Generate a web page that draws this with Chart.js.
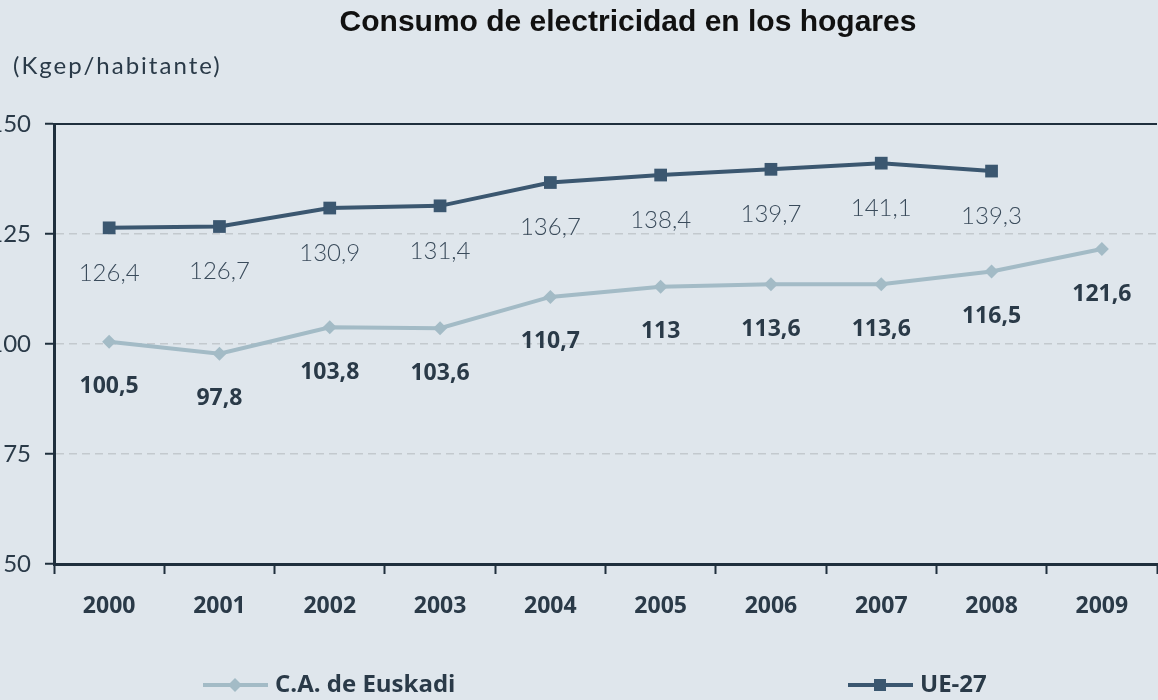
<!DOCTYPE html>
<html lang="es">
<head>
<meta charset="UTF-8" />
<title>Consumo de electricidad en los hogares</title>
<script src="https://cdn.jsdelivr.net/npm/chart.js@4.4.0/dist/chart.umd.min.js"></script>
<style>
  html, body { margin: 0; padding: 0; background: #dfe6ec; overflow: hidden; }
  #wrap { position: absolute; left: -14px; top: 0; width: 1180px; height: 700px; }
</style>
</head>
<body>
<div id="wrap"><canvas id="myChart" width="1180" height="700"></canvas></div>
<script>
const years = ["2000", "2001", "2002", "2003", "2004", "2005", "2006", "2007", "2008", "2009"];
const euskadi = [100.5, 97.8, 103.8, 103.6, 110.7, 113, 113.6, 113.6, 116.5, 121.6];
const ue27 = [126.4, 126.7, 130.9, 131.4, 136.7, 138.4, 139.7, 141.1, 139.3, null];
const yTicks = [50, 75, 100, 125, 150];

const AXIS = "#1f2f3d";
const TEXT = "#2a3a48";
const LIGHT = "#a3bbc6";
const DARK = "#3b5770";
const BOLD_FONT = "'Open Sans', Lato, sans-serif";
const THIN_FONT = "Lato, 'Open Sans', sans-serif";

const fmt = v => String(v).replace(".", ",");

// labels under each point
const valueLabels = {
  id: "valueLabels",
  afterDatasetsDraw(chart) {
    const ctx = chart.ctx;
    ctx.save();
    ctx.textAlign = "center";
    ctx.textBaseline = "middle";
    chart.data.datasets.forEach((ds, i) => {
      const meta = chart.getDatasetMeta(i);
      ctx.font = ds.labelFont;
      ctx.fillStyle = ds.labelColor;
      meta.data.forEach((pt, j) => {
        const v = ds.data[j];
        if (v == null) return;
        ctx.fillText(fmt(v), pt.x, pt.y + 45);
      });
    });
    ctx.restore();
  }
};

// title, unit, top frame line and legend
const decor = {
  id: "decor",
  afterDraw(chart) {
    const { ctx, chartArea: a } = chart;
    ctx.save();
    ctx.strokeStyle = AXIS;
    ctx.lineWidth = 2;
    ctx.beginPath();
    ctx.moveTo(a.left, a.top);
    ctx.lineTo(a.right, a.top);
    ctx.stroke();

    ctx.fillStyle = "#111111";
    ctx.font = "bold 30px 'Liberation Sans', Arial, sans-serif";
    ctx.textAlign = "center";
    ctx.textBaseline = "middle";
    ctx.fillText("Consumo de electricidad en los hogares", 642, 23);

    ctx.fillStyle = TEXT;
    ctx.font = "24px " + THIN_FONT;
    ctx.textAlign = "left";
    ctx.letterSpacing = "2px";
    ctx.fillText("(Kgep/habitante)", 27, 66);
    ctx.letterSpacing = "0px";

    const legendX = [217, 862];
    chart.data.datasets.forEach((ds, i) => {
      const x0 = legendX[i], y = 685;
      ctx.strokeStyle = ds.borderColor;
      ctx.lineWidth = 4;
      ctx.beginPath();
      ctx.moveTo(x0, y);
      ctx.lineTo(x0 + 65, y);
      ctx.stroke();
      ctx.fillStyle = ds.backgroundColor;
      const cx = x0 + 32;
      ctx.beginPath();
      if (ds.pointStyle === "rectRot") {
        ctx.moveTo(cx, y - 7); ctx.lineTo(cx + 7, y); ctx.lineTo(cx, y + 7); ctx.lineTo(cx - 7, y);
      } else {
        ctx.rect(cx - 6, y - 6, 12, 12);
      }
      ctx.fill();
      ctx.fillStyle = TEXT;
      ctx.font = "bold 24px " + BOLD_FONT;
      ctx.fillText(ds.label, x0 + 72, y);
    });
    ctx.restore();
  }
};

const ctx = document.getElementById("myChart").getContext("2d");
const myChart = new Chart(ctx, {
  type: "line",
  data: {
    labels: years,
    datasets: [
      {
        label: "C.A. de Euskadi",
        data: euskadi,
        borderColor: LIGHT,
        backgroundColor: LIGHT,
        borderWidth: 4,
        pointStyle: "rectRot",
        pointRadius: 7,
        pointBorderWidth: 0,
        labelFont: "bold 23px " + BOLD_FONT,
        labelColor: TEXT,
      },
      {
        label: "UE-27",
        data: ue27,
        borderColor: DARK,
        backgroundColor: DARK,
        borderWidth: 4,
        pointStyle: "rect",
        pointRadius: 9,
        pointBorderWidth: 0,
        labelFont: "300 24px " + THIN_FONT,
        labelColor: "#3a4b5b",
      },
    ],
  },
  options: {
    responsive: false,
    animation: false,
    layout: { padding: { top: 124, bottom: 76, left: 0, right: 0 } },
    plugins: {
      legend: { display: false },
      tooltip: { enabled: false },
    },
    scales: {
      x: {
        offset: true,
        grid: { offset: true, drawOnChartArea: false, tickLength: 10, tickColor: AXIS, tickWidth: 2 },
        border: { color: AXIS, width: 3 },
        ticks: { color: TEXT, padding: 19, font: { family: BOLD_FONT, size: 23, weight: "bold" } },
        afterFit(scale) { scale.height = 60; },
      },
      y: {
        min: yTicks[0],
        max: yTicks[yTicks.length - 1],
        afterBuildTicks(scale) { scale.ticks = yTicks.map(v => ({ value: v })); },
        grid: {
          color: c => (c.tick && (c.tick.value === 150 || c.tick.value === 50)) ? "rgba(0,0,0,0)" : "#c3c9ce",
          lineWidth: 1.5,
          tickColor: AXIS,
          tickWidth: 2,
          tickLength: 9,
        },
        border: { color: AXIS, width: 3, dash: [8, 5] },
        ticks: { color: TEXT, padding: 14, font: { family: THIN_FONT, size: 24 } },
        afterFit(scale) { scale.width = 68; },
      },
    },
  },
  plugins: [valueLabels, decor],
});
</script>
</body>
</html>
